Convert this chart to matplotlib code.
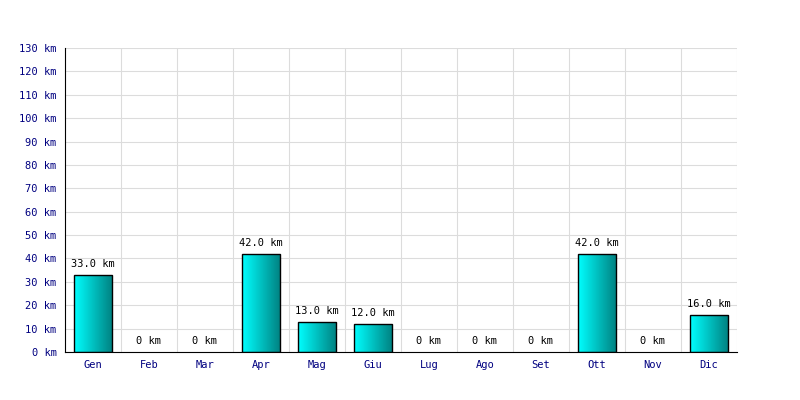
import numpy as np
import matplotlib.pyplot as plt
from matplotlib.colors import LinearSegmentedColormap

# dati mensili
mesi = ['Gen', 'Feb', 'Mar', 'Apr', 'Mag', 'Giu', 'Lug', 'Ago', 'Set', 'Ott', 'Nov', 'Dic']
km = [33.0, 0, 0, 42.0, 13.0, 12.0, 0, 0, 0, 42.0, 0, 16.0]
yticks = list(range(0, 140, 10))

plt.rcParams['font.family'] = ['DejaVu Sans Mono']

fig = plt.figure(figsize=(8, 4), dpi=100)
ax = fig.add_axes([65 / 800, 48 / 400, 672 / 800, 304 / 400])

x = np.arange(len(mesi))
larghezza = 0.68
cmap = LinearSegmentedColormap.from_list('ciano', ['#00ffff', '#008080'])
grad = np.linspace(0, 1, 256).reshape(1, -1)

bars = ax.bar(x, km, width=larghezza, facecolor='none', edgecolor='black', linewidth=1, zorder=3)
for b, v in zip(bars, km):
    if v > 0:
        im = ax.imshow(grad, cmap=cmap, aspect='auto', zorder=2,
                       extent=[b.get_x(), b.get_x() + b.get_width(), 0, v])
        im.set_clip_path(b)
    else:
        b.set_visible(False)
    etichetta = '0 km' if v == 0 else f'{v:.1f} km'
    ax.annotate(etichetta, (b.get_x() + b.get_width() / 2, v), xytext=(0, 4),
                textcoords='offset points', ha='center', va='bottom', fontsize=7.5, color='black')

ax.set_xlim(-0.5, len(mesi) - 0.5)
ax.set_ylim(0, 130)
ax.set_xticks(x)
ax.set_xticklabels(mesi)
ax.set_xticks(np.arange(len(mesi)) + 0.5, minor=True)
ax.set_yticks(yticks)
ax.set_yticklabels([f'{t} km' for t in yticks])
ax.tick_params(axis='both', which='both', length=0, colors='#000080', labelsize=7.5, pad=6)
ax.grid(True, which='minor', axis='x', color='#dcdcdc', linewidth=0.8, zorder=0)
ax.grid(True, which='major', axis='y', color='#dcdcdc', linewidth=0.8, zorder=0)
ax.set_axisbelow(True)

for s in ['top', 'right']:
    ax.spines[s].set_visible(False)
for s in ['left', 'bottom']:
    ax.spines[s].set_color('black')
    ax.spines[s].set_zorder(4)

fig.savefig('out.png', dpi=100)
